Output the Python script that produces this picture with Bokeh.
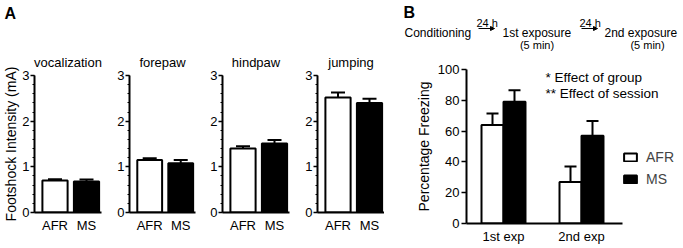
from bokeh.plotting import figure
from bokeh.models import (Range1d, FixedTicker, ColumnDataSource, Whisker, TeeHead,
                          Label, Legend, LegendItem, Arrow, NormalHead, Spacer)
from bokeh.layouts import row, column
from bokeh.embed import file_html
from bokeh.resources import INLINE

# ---------------- data ----------------
groups = ["AFR", "MS"]
behaviors = ["vocalization", "forepaw", "hindpaw", "jumping"]
afr_mean = [0.70, 1.15, 1.40, 2.52]
afr_sem = [0.03, 0.04, 0.05, 0.11]
ms_mean = [0.68, 1.08, 1.51, 2.40]
ms_sem = [0.04, 0.07, 0.08, 0.09]
a_yticks = [0, 1, 2, 3]

sessions = ["1st exp", "2nd exp"]
afr_freeze = [64, 27]
afr_freeze_sem = [7.5, 10]
ms_freeze = [79, 57]
ms_freeze_sem = [7.5, 9.5]
b_yticks = [0, 20, 40, 60, 80, 100]

FONT = "Liberation Sans"


def base_style(p):
    p.xgrid.visible = False
    p.ygrid.visible = False
    p.outline_line_color = None
    p.background_fill_color = "white"
    p.border_fill_color = "white"
    for ax in (p.xaxis[0], p.yaxis[0]):
        ax.axis_line_width = 2
        ax.axis_line_color = "black"
        ax.major_tick_line_width = 1.5
        ax.major_tick_line_color = "black"
        ax.minor_tick_line_color = None
        ax.major_tick_in = 0
        ax.major_label_text_font = FONT
        ax.major_label_text_font_size = "13px"
        ax.major_label_text_color = "black"
        ax.axis_label_text_font = FONT
        ax.axis_label_text_font_size = "14px"
        ax.axis_label_text_font_style = "normal"
        ax.axis_label_text_color = "black"


def header(x_start, width, height):
    h = figure(width=width, height=height, x_range=Range1d(x_start, x_start + width),
               y_range=Range1d(height, 0), x_axis_type=None, y_axis_type=None,
               output_backend="svg", toolbar_location=None, min_border=0,
               outline_line_color=None)
    h.xgrid.visible = False
    h.ygrid.visible = False
    h.border_fill_color = "white"
    h.background_fill_color = "white"
    return h


def hlab(h, x, y, text, size, align="left", style="normal", baseline="alphabetic"):
    h.add_layout(Label(x=x, y=y, text=text, text_font=FONT, text_font_size=size,
                       text_font_style=style, text_align=align, text_baseline=baseline,
                       text_color="black"))


# ---------------- panel A ----------------
borders_left = [34, 14, 26, 27]
borders_right = [13, 1, 1, 0]
title_offsets = [9, 6, 6, 0]
FRAME_A = 67
A_TOP, A_BOTTOM, A_FRAME_H = 21, 25, 140
A_BODY = A_TOP + A_FRAME_H + A_BOTTOM
figs = []
xg = [float(k + 1) for k in range(len(groups))]
for i, name in enumerate(behaviors):
    p = figure(width=borders_left[i] + FRAME_A + borders_right[i], height=A_BODY,
               x_range=Range1d(0.349, 2.476), y_range=Range1d(0, 3),
               output_backend="svg", toolbar_location=None,
               min_border_left=borders_left[i], min_border_right=borders_right[i],
               min_border_top=A_TOP, min_border_bottom=A_BOTTOM, title=name)
    p.title.text_font = FONT
    p.title.text_font_size = "13px"
    p.title.text_font_style = "normal"
    p.title.text_color = "black"
    p.title.align = "center"
    p.title.vertical_align = "top"
    p.title.offset = title_offsets[i]
    p.title.standoff = 7
    base_style(p)
    tops = [afr_mean[i], ms_mean[i]]
    sems = [afr_sem[i], ms_sem[i]]
    src = ColumnDataSource(dict(x=xg, top=tops,
                                upper=[t + s for t, s in zip(tops, sems)],
                                fill=["white", "black"]))
    p.add_layout(Whisker(source=src, base="x", lower="top", upper="upper",
                         line_width=2, line_color="black",
                         upper_head=TeeHead(size=14, line_width=2, line_color="black"),
                         lower_head=None))
    p.vbar(x="x", top="top", bottom=0, width=0.8, source=src,
           fill_color="fill", line_color="black", line_width=2)
    p.xaxis.ticker = FixedTicker(ticks=xg)
    p.xaxis.major_label_overrides = {int(k): g for k, g in zip(xg, groups)}
    p.xaxis.major_tick_out = 0
    p.xaxis.major_label_standoff = 5
    p.yaxis.ticker = FixedTicker(ticks=a_yticks,
                                 minor_ticks=[round(0.2 * k, 2) for k in range(16)])
    p.yaxis.minor_tick_line_color = "black"
    p.yaxis.minor_tick_line_width = 1
    p.yaxis.minor_tick_out = 2
    p.yaxis.minor_tick_in = 0
    p.yaxis.major_tick_out = 4
    p.yaxis.major_label_standoff = 1
    if i == 0:
        p.yaxis.axis_label = "Footshock Intensity (mA)"
        p.yaxis.axis_label_standoff = 0
    figs.append(p)

A_W = sum(f.width for f in figs)
A_HDR = 72 - A_TOP
hdrA = header(0, A_W, A_HDR)
hlab(hdrA, 4, 4, "A", "16px", style="bold", baseline="top")
colA = column(hdrA, row(*figs, spacing=0), Spacer(width=A_W, height=248 - A_HDR - A_BODY),
              spacing=0)

# ---------------- panel B ----------------
B_W = 683 - A_W
bl = 82
FRAME_B = B_W - bl
B_TOP, B_BOTTOM, B_FRAME_H = 17, 25, 154
B_HDR = 69 - B_TOP
UNIT = 78.0
x0 = 1 - 37 / UNIT
pb = figure(frame_width=FRAME_B, frame_height=B_FRAME_H,
            x_range=Range1d(x0, x0 + FRAME_B / UNIT), y_range=Range1d(0, 100),
            output_backend="svg", toolbar_location=None,
            min_border_left=bl, min_border_right=0,
            min_border_top=B_TOP, min_border_bottom=B_BOTTOM)
base_style(pb)
xs = [float(k + 1) for k in range(len(sessions))]
bw = 0.282
src_afr = ColumnDataSource(dict(x=[v - bw / 2 for v in xs], top=afr_freeze,
                                upper=[t + s for t, s in zip(afr_freeze, afr_freeze_sem)]))
src_ms = ColumnDataSource(dict(x=[v + bw / 2 for v in xs], top=ms_freeze,
                               upper=[t + s for t, s in zip(ms_freeze, ms_freeze_sem)]))
for s in (src_afr, src_ms):
    pb.add_layout(Whisker(source=s, base="x", lower="top", upper="upper",
                          line_width=2, line_color="black",
                          upper_head=TeeHead(size=12, line_width=2, line_color="black"),
                          lower_head=None))
r_afr = pb.vbar(x="x", top="top", bottom=0, width=bw, source=src_afr,
                fill_color="white", line_color="black", line_width=2)
r_ms = pb.vbar(x="x", top="top", bottom=0, width=bw, source=src_ms,
               fill_color="black", line_color="black", line_width=2)
pb.xaxis.ticker = FixedTicker(ticks=xs)
pb.xaxis.major_label_overrides = {int(k): s for k, s in zip(xs, sessions)}
pb.xaxis.major_tick_out = 0
pb.xaxis.major_label_standoff = 5
pb.xaxis.bounds = (x0, 2 + 41 / UNIT)
pb.yaxis.ticker = FixedTicker(ticks=b_yticks)
pb.yaxis.major_tick_out = 5
pb.yaxis.major_label_standoff = 2
pb.yaxis.axis_label = "Percentage Freezing"
pb.yaxis.axis_label_standoff = 3

legend = Legend(items=[LegendItem(label=groups[0], renderers=[r_afr]),
                       LegendItem(label=groups[1], renderers=[r_ms])],
                location=(156, 36))
legend.border_line_color = None
legend.background_fill_alpha = 0
legend.padding = 0
legend.margin = 0
legend.spacing = 6
legend.glyph_width = 16
legend.glyph_height = 10
legend.label_height = 16
legend.label_standoff = 8
legend.label_text_font = FONT
legend.label_text_font_size = "14px"
pb.add_layout(legend)

for yy, txt in ((146, "* Effect of group"), (130, "** Effect of session")):
    pb.add_layout(Label(x=79, y=yy, x_units="screen", y_units="screen", text=txt,
                        text_font=FONT, text_font_size="13.5px", text_align="left",
                        text_baseline="middle", text_color="black"))

hdrB = header(A_W, B_W, B_HDR)
hlab(hdrB, 403, 3, "B", "16px", style="bold", baseline="top")
hlab(hdrB, 404, 32, "Conditioning", "12px")
hlab(hdrB, 476, 22, "24 h", "11px")
hlab(hdrB, 502, 32, "1st exposure", "12px")
hlab(hdrB, 536.5, 44, "(5 min)", "11px", align="center")
hlab(hdrB, 579, 22, "24 h", "11px")
hlab(hdrB, 604, 32, "2nd exposure", "12px")
hlab(hdrB, 647, 44, "(5 min)", "11px", align="center")
for xa in (478, 581):
    hdrB.add_layout(Arrow(x_start=xa, y_start=28, x_end=xa + 16, y_end=28,
                          line_width=1, line_color="black",
                          end=NormalHead(size=4, fill_color="black", line_color="black",
                                         line_width=1)))
colB = column(hdrB, row(pb, spacing=0), spacing=0)

layout = row(colA, colB, spacing=0)
open("out.html", "w").write(file_html(layout, INLINE))
